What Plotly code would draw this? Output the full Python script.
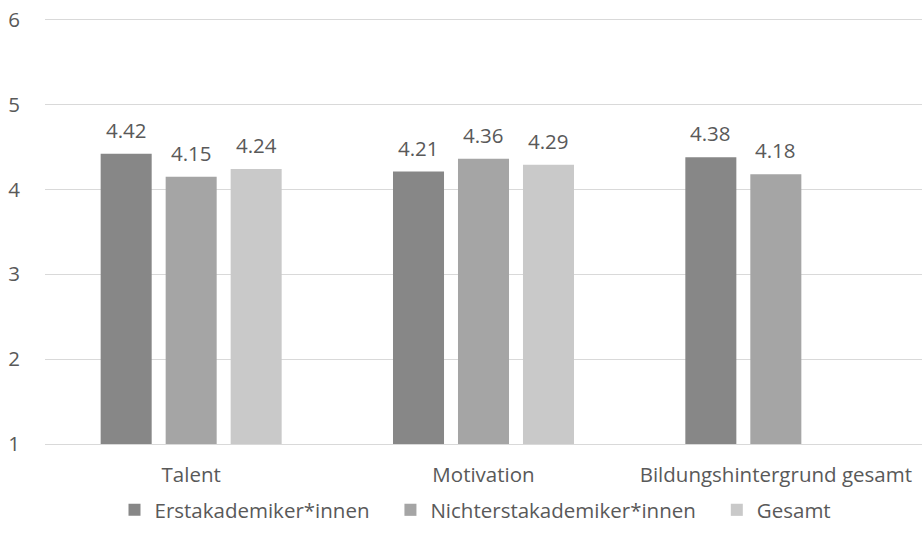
import plotly.graph_objects as go

categories = ["Talent", "Motivation", "Bildungshintergrund gesamt"]
series_names = ["Erstakademiker*innen", "Nichterstakademiker*innen", "Gesamt"]
erst = [4.42, 4.21, 4.38]
nicht = [4.15, 4.36, 4.18]
gesamt = [4.24, 4.29, None]
y_ticks = [1, 2, 3, 4, 5, 6]

colors = ["#878787", "#a5a5a5", "#c9c9c9"]
font_family = "Open Sans, Liberation Sans, sans-serif"
text_color = "#595959"
fs = 20.5

W, H = 922, 540
margin = dict(l=45, r=0, t=18, b=96)
bargap = 0.333
bargroupgap = 0.215

all_series = [erst, nicht, gesamt]
fig = go.Figure()
for name, vals, col in zip(series_names, all_series, colors):
    fig.add_trace(go.Bar(
        x=categories, y=vals, name=name + "\u00a0\u00a0\u00a0",
        marker=dict(color=col, line=dict(width=0)),
        hovertemplate=name + ": %{y}<extra></extra>",
    ))

# data labels placed above each bar, horizontally at the bar's group slot
plot_w = W - margin["l"] - margin["r"]
slot_px = plot_w / len(categories) * (1 - bargap) / len(all_series)
annotations = []
for si, vals in enumerate(all_series):
    shift = (si - (len(all_series) - 1) / 2) * slot_px
    for cat, v in zip(categories, vals):
        if v is None:
            continue
        annotations.append(dict(
            x=cat, y=v, xref="x", yref="y", text="%.2f" % v, showarrow=False,
            xshift=shift, yshift=24, xanchor="center", yanchor="middle",
            font=dict(size=fs, color=text_color, family=font_family),
        ))

fig.update_layout(
    width=W, height=H,
    margin=margin,
    paper_bgcolor="white", plot_bgcolor="white",
    barmode="group", bargap=bargap, bargroupgap=bargroupgap,
    font=dict(family=font_family, size=fs, color=text_color),
    showlegend=True,
    legend=dict(orientation="h", x=0.5, xanchor="center", y=-0.155, yanchor="middle",
                font=dict(size=fs, color=text_color), itemwidth=30,
                traceorder="normal"),
    annotations=annotations,
)
fig.update_yaxes(range=[1, 6.02], tickvals=y_ticks, showgrid=True, gridcolor="#d9d9d9",
                 gridwidth=1, zeroline=False, showline=False, ticks="",
                 ticklabelstandoff=24, tickfont=dict(size=fs, color=text_color))
fig.update_xaxes(showline=True, linecolor="#d9d9d9", linewidth=1, ticks="",
                 ticklabelstandoff=12, tickfont=dict(size=fs, color=text_color))

fig.write_html("out.html")
